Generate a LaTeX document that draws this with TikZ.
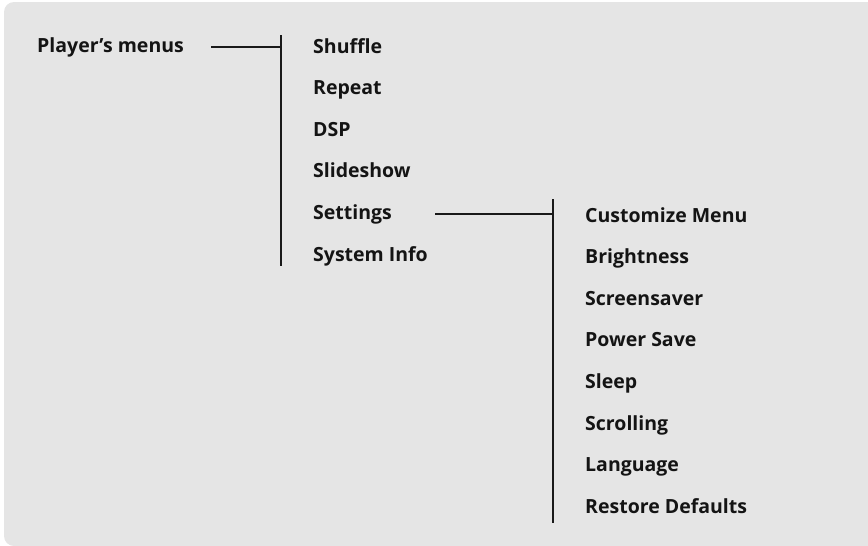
\documentclass[tikz,border=0pt]{standalone}
\usepackage{fontspec}
\setmainfont{Open Sans}
\begin{document}
\begin{tikzpicture}[x=1pt,y=-1pt,
  item/.style={anchor=base west,inner sep=0pt,font=\fontsize{19.5}{22}\selectfont\bfseries,text=black!92},
  bar/.style={line width=2.6pt,draw=black!90},
  link/.style={line width=2pt,draw=black!90}]
\useasboundingbox (0,0) rectangle (868,546);
\fill[fill=black!10,rounded corners=10pt] (4,2) rectangle (890,546);
\node[item] (pm) at (37,52.5) {Player’s menus};
\foreach \n/\t [count=\i from 0] in {shuffle/Shuffle,repeat/Repeat,dsp/DSP,slideshow/Slideshow,settings/Settings,sysinfo/System Info}
  \node[item] (\n) at (313,53+41.6*\i) {\t};
\foreach \n/\t [count=\i from 0] in {custom/Customize Menu,bright/Brightness,screen/Screensaver,power/Power Save,sleep/Sleep,scroll/Scrolling,lang/Language,restore/Restore Defaults}
  \node[item] (\n) at (585,222.3+41.55*\i) {\t};
\coordinate (pmend) at (211,47);
\coordinate (b1top) at (281,35);
\coordinate (b1bot) at (281,266);
\coordinate (b1mid) at (281,47);
\coordinate (setend) at (435,214);
\coordinate (b2top) at (553,199);
\coordinate (b2bot) at (553,523);
\coordinate (b2mid) at (553,214);
\draw[link] (pmend) -- (b1mid);
\draw[bar] (b1top) -- (b1bot);
\draw[link] (setend) -- (b2mid);
\draw[bar] (b2top) -- (b2bot);
\end{tikzpicture}
\end{document}
